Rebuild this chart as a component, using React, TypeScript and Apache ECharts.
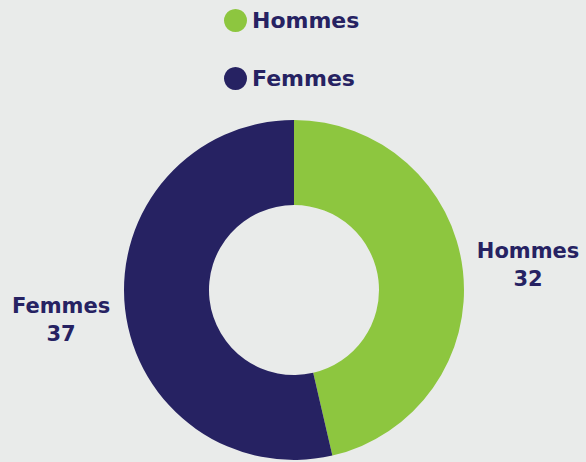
import React, { useEffect, useRef } from "react";
import * as echarts from "echarts";

const categories = ["Hommes", "Femmes"];
const values = [32, 37];
const colors = ["#8dc63f", "#262262"];

export default function App() {
  const ref = useRef<HTMLDivElement>(null);
  useEffect(() => {
    const chart = echarts.init(ref.current!, null, { renderer: "svg" });
    const font = "'DejaVu Sans', sans-serif";
    chart.setOption({
      animation: false,
      backgroundColor: "#e9ebea",
      color: colors,
      legend: {
        orient: "vertical",
        left: 219,
        top: 4,
        icon: "circle",
        itemWidth: 23,
        itemHeight: 23,
        itemGap: 35,
        itemTextGap: 9,
        textStyle: { fontSize: 22, fontWeight: "bold", color: "#262262", fontFamily: font },
        data: categories,
      },
      series: [
        {
          type: "pie",
          center: [294, 290],
          radius: [85, 170],
          startAngle: 90,
          clockwise: true,
          data: categories.map((c, i) => ({ name: c, value: values[i] })),
          label: {
            show: true,
            position: "outside",
            formatter: "{b}\n{c}",
            fontSize: 21,
            fontWeight: "bold",
            lineHeight: 28,
            color: "#262262",
            fontFamily: font,
            overflow: "none",
          },
          labelLine: { show: false, length: 12, length2: 0 },
          labelLayout: (p: any) => {
            const cx = p.labelRect.x + p.labelRect.width / 2;
            const cy = p.labelRect.y + p.labelRect.height / 2;
            const right = cx > 294;
            return {
              x: cx + (right ? -3 : 2),
              y: cy + (right ? -4 : 9),
              align: "center",
              verticalAlign: "middle",
            };
          },
        },
      ],
    });
    return () => chart.dispose();
  }, []);
  return (
    <div
      ref={ref}
      style={{ position: "fixed", left: 0, top: 0, width: 586, height: 462 }}
    />
  );
}
